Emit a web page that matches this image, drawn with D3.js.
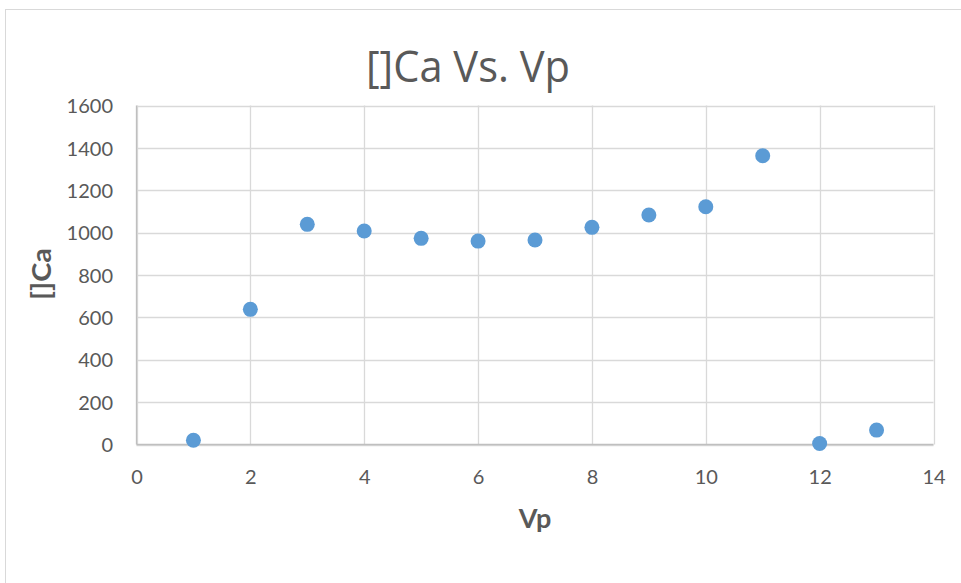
<!DOCTYPE html>
<html>
<head>
<meta charset="utf-8">
<script src="https://cdn.jsdelivr.net/npm/d3@7"></script>
<style>
  html, body { margin: 0; padding: 0; background: #fff; }
  svg { display: block; }
</style>
</head>
<body>
<svg id="chart" width="961" height="583"></svg>
<script>
// Vp readings and the matching []Ca values
const vp = [1, 2, 3, 4, 5, 6, 7, 8, 9, 10, 11, 12, 13];
const ca = [20, 638, 1039, 1008, 973, 960, 965, 1025, 1083, 1122, 1363, 5, 68];
const xTicks = [0, 2, 4, 6, 8, 10, 12, 14];
const yTicks = [0, 200, 400, 600, 800, 1000, 1200, 1400, 1600];

const titleText = "[]Ca Vs. Vp";
const xTitle = "Vp";
const yTitle = "[]Ca";

const svg = d3.select("#chart");
const font = "Lato, 'Open Sans', sans-serif";
const textColor = "#595959";

// chart frame
svg.append("rect")
  .attr("x", 5.5).attr("y", 9.5)
  .attr("width", 1000).attr("height", 1000)
  .attr("fill", "#fff").attr("stroke", "#d9d9d9").attr("stroke-width", 1);

const plot = { left: 136.5, right: 933.5, top: 105.5, bottom: 444.5 };

const x = d3.scaleLinear().domain([0, 14]).range([plot.left, plot.right]);
const y = d3.scaleLinear().domain([0, 1600]).range([plot.bottom, plot.top]);

// horizontal gridlines
svg.append("g")
  .selectAll("line")
  .data(yTicks)
  .join("line")
  .attr("x1", plot.left).attr("x2", plot.right)
  .attr("y1", d => Math.round(y(d)) + 0.5).attr("y2", d => Math.round(y(d)) + 0.5)
  .attr("stroke", "#d9d9d9").attr("stroke-width", 1.3);

// vertical gridlines
svg.append("g")
  .selectAll("line")
  .data(xTicks)
  .join("line")
  .attr("y1", plot.top).attr("y2", plot.bottom)
  .attr("x1", d => Math.round(x(d)) + 0.5).attr("x2", d => Math.round(x(d)) + 0.5)
  .attr("stroke", "#d9d9d9").attr("stroke-width", 1.3);

// axis lines
svg.append("line")
  .attr("x1", plot.left).attr("x2", plot.right)
  .attr("y1", y(0)).attr("y2", y(0))
  .attr("stroke", "#bfbfbf").attr("stroke-width", 1.3);
svg.append("line")
  .attr("x1", x(0)).attr("x2", x(0))
  .attr("y1", plot.top).attr("y2", plot.bottom)
  .attr("stroke", "#bfbfbf").attr("stroke-width", 1.3);

// x axis tick labels
const xAxis = d3.axisBottom(x).tickValues(xTicks).tickFormat(d3.format("d")).tickSize(0).tickPadding(0);
const gx = svg.append("g").attr("transform", `translate(0,${plot.bottom})`).call(xAxis);
gx.select(".domain").remove();
gx.selectAll("text")
  .attr("dy", null).attr("y", 39)
  .attr("fill", textColor)
  .style("font-family", font).style("font-size", "20px");

// y axis tick labels
const yAxis = d3.axisLeft(y).tickValues(yTicks).tickFormat(d3.format("d")).tickSize(0).tickPadding(0);
const gy = svg.append("g").attr("transform", `translate(113,0)`).call(yAxis);
gy.select(".domain").remove();
gy.selectAll("text")
  .attr("x", 0).attr("dy", "0.36em")
  .attr("fill", textColor)
  .style("font-family", font).style("font-size", "20px");

// points
svg.append("g")
  .selectAll("circle")
  .data(vp.map((v, i) => [v, ca[i]]))
  .join("circle")
  .attr("cx", d => x(d[0]))
  .attr("cy", d => y(d[1]))
  .attr("r", 7.5)
  .attr("fill", "#5b9bd5");

// title
svg.append("text")
  .attr("x", 468).attr("y", 82)
  .attr("text-anchor", "middle")
  .attr("fill", textColor)
  .attr("textLength", 204).attr("lengthAdjust", "spacingAndGlyphs")
  .style("font-family", "'Open Sans', Lato, sans-serif").style("font-weight", 400).style("font-size", "43px")
  .text(titleText);

// axis titles
svg.append("text")
  .attr("x", 535).attr("y", 528)
  .attr("text-anchor", "middle")
  .attr("fill", textColor)
  .style("font-family", font).style("font-weight", 700).style("font-size", "27px")
  .text(xTitle);

svg.append("text")
  .attr("transform", "translate(51,274) rotate(-90)")
  .attr("text-anchor", "middle")
  .attr("fill", textColor)
  .attr("textLength", 52).attr("lengthAdjust", "spacingAndGlyphs")
  .style("font-family", font).style("font-weight", 700).style("font-size", "26px")
  .text(yTitle);
</script>
</body>
</html>
